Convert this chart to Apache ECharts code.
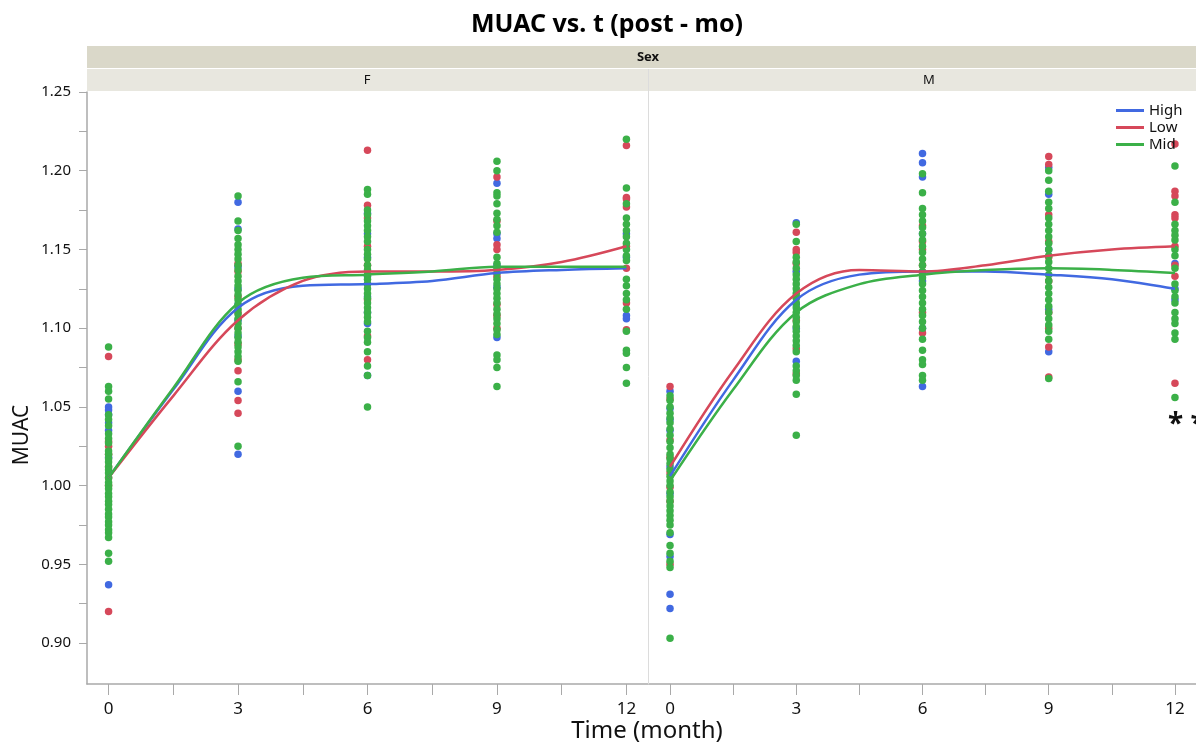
<!DOCTYPE html>
<html><head><meta charset="utf-8">
<script src="https://cdn.jsdelivr.net/npm/echarts@6/dist/echarts.min.js"></script>
<style>html,body{margin:0;padding:0;background:#fff}#c{width:1196px;height:744px}</style>
</head><body><div id="c"></div>
<script>
const TIMES = [0, 3, 6, 9, 12];
const GROUPS = ['High', 'Low', 'Mid'];
const X_TICKS = [0, 1.5, 3, 4.5, 6, 7.5, 9, 10.5, 12];
const X_LABELS = [0, 3, 6, 9, 12];
const Y_TICKS = [0.9, 0.925, 0.95, 0.975, 1.0, 1.025, 1.05, 1.075, 1.1, 1.125, 1.15, 1.175, 1.2, 1.225, 1.25];
const Y_LABELS = [0.9, 0.95, 1.0, 1.05, 1.1, 1.15, 1.2, 1.25];

// Female panel, values per time point (0,3,6,9,12)
const F_HIGH = [
  [1.050, 1.048, 1.045, 1.040, 1.035, 1.018, 0.937],
  [1.180, 1.163, 1.139, 1.125, 1.115, 1.105, 1.095, 1.060, 1.020],
  [1.173, 1.160, 1.145, 1.133, 1.120, 1.110, 1.103, 1.070],
  [1.192, 1.160, 1.157, 1.140, 1.126, 1.094],
  [1.160, 1.145, 1.108, 1.106]
];
const F_LOW = [
  [1.082, 1.028, 1.025, 1.020, 1.012, 1.005, 1.000, 0.920],
  [1.141, 1.136, 1.120, 1.110, 1.100, 1.090, 1.080, 1.073, 1.054, 1.046],
  [1.213, 1.178, 1.170, 1.152, 1.140, 1.128, 1.118, 1.095, 1.080],
  [1.196, 1.168, 1.153, 1.150, 1.133, 1.115, 1.108, 1.100],
  [1.216, 1.183, 1.182, 1.177, 1.152, 1.138, 1.116, 1.099]
];
const F_MID = [
  [1.088, 1.063, 1.060, 1.055, 1.045, 1.042, 1.038, 1.033, 1.030, 1.027, 1.022, 1.020, 1.017, 1.015, 1.012, 1.010, 1.008, 1.005, 1.002, 1.000, 0.998, 0.995, 0.993, 0.990, 0.988, 0.985, 0.982, 0.980, 0.977, 0.975, 0.972, 0.970, 0.967, 0.957, 0.952],
  [1.184, 1.168, 1.162, 1.157, 1.153, 1.150, 1.147, 1.144, 1.140, 1.137, 1.133, 1.130, 1.127, 1.124, 1.121, 1.118, 1.115, 1.112, 1.109, 1.106, 1.103, 1.100, 1.097, 1.094, 1.091, 1.088, 1.085, 1.082, 1.079, 1.066, 1.025],
  [1.188, 1.185, 1.175, 1.172, 1.168, 1.165, 1.162, 1.158, 1.155, 1.150, 1.147, 1.144, 1.140, 1.137, 1.134, 1.131, 1.128, 1.125, 1.122, 1.119, 1.116, 1.113, 1.110, 1.107, 1.104, 1.098, 1.094, 1.091, 1.085, 1.076, 1.070, 1.050],
  [1.206, 1.200, 1.186, 1.184, 1.179, 1.173, 1.169, 1.165, 1.161, 1.145, 1.141, 1.138, 1.135, 1.131, 1.128, 1.125, 1.122, 1.119, 1.116, 1.112, 1.109, 1.106, 1.103, 1.099, 1.096, 1.083, 1.080, 1.075, 1.063],
  [1.220, 1.189, 1.179, 1.170, 1.166, 1.162, 1.158, 1.154, 1.150, 1.146, 1.143, 1.131, 1.127, 1.122, 1.118, 1.112, 1.098, 1.086, 1.084, 1.075, 1.065]
];
// Male panel
const M_HIGH = [
  [1.060, 1.049, 1.042, 1.035, 1.012, 0.995, 0.969, 0.955, 0.931, 0.922],
  [1.167, 1.136, 1.115, 1.100, 1.079],
  [1.211, 1.205, 1.196, 1.160, 1.130, 1.100, 1.063],
  [1.202, 1.185, 1.150, 1.112, 1.085],
  [1.141, 1.125, 1.118]
];
const M_LOW = [
  [1.063, 1.055, 1.029, 1.018, 1.008, 0.999, 0.990, 0.950],
  [1.161, 1.150, 1.148, 1.141, 1.120, 1.105, 1.087, 1.071],
  [1.165, 1.155, 1.150, 1.140, 1.135, 1.110, 1.097],
  [1.209, 1.204, 1.172, 1.155, 1.145, 1.130, 1.110, 1.100, 1.088, 1.069],
  [1.217, 1.187, 1.184, 1.172, 1.170, 1.152, 1.140, 1.133, 1.065]
];
const M_MID = [
  [1.057, 1.054, 1.050, 1.046, 1.043, 1.040, 1.036, 1.032, 1.028, 1.024, 1.020, 1.017, 1.014, 1.010, 1.006, 1.003, 1.000, 0.996, 0.993, 0.990, 0.987, 0.984, 0.981, 0.978, 0.975, 0.970, 0.962, 0.957, 0.952, 0.948, 0.903],
  [1.166, 1.155, 1.145, 1.142, 1.138, 1.134, 1.131, 1.128, 1.125, 1.122, 1.119, 1.116, 1.113, 1.110, 1.107, 1.104, 1.101, 1.098, 1.095, 1.092, 1.089, 1.085, 1.076, 1.073, 1.070, 1.067, 1.058, 1.032],
  [1.198, 1.186, 1.176, 1.172, 1.168, 1.164, 1.160, 1.156, 1.152, 1.148, 1.144, 1.140, 1.136, 1.132, 1.128, 1.124, 1.120, 1.116, 1.112, 1.108, 1.104, 1.100, 1.093, 1.086, 1.080, 1.077, 1.070, 1.067],
  [1.200, 1.194, 1.187, 1.180, 1.176, 1.170, 1.166, 1.162, 1.158, 1.154, 1.150, 1.146, 1.142, 1.138, 1.134, 1.130, 1.126, 1.122, 1.118, 1.114, 1.110, 1.106, 1.102, 1.098, 1.093, 1.068],
  [1.203, 1.180, 1.166, 1.162, 1.159, 1.156, 1.150, 1.146, 1.138, 1.128, 1.124, 1.120, 1.116, 1.110, 1.106, 1.103, 1.097, 1.093, 1.056]
];

// Smoothed fit curves read at these times
const FIT_T = [0, 1.5, 3, 4.5, 6, 7.5, 9, 10.5, 12];
const F_HIGH_FIT = [1.005, 1.061, 1.113, 1.127, 1.128, 1.130, 1.135, 1.137, 1.138];
const F_LOW_FIT  = [1.005, 1.057, 1.105, 1.130, 1.136, 1.136, 1.137, 1.142, 1.152];
const F_MID_FIT  = [1.005, 1.062, 1.116, 1.132, 1.134, 1.136, 1.139, 1.139, 1.139];
const M_HIGH_FIT = [1.006, 1.067, 1.118, 1.134, 1.136, 1.136, 1.134, 1.131, 1.125];
const M_LOW_FIT  = [1.012, 1.073, 1.122, 1.137, 1.136, 1.140, 1.146, 1.150, 1.152];
const M_MID_FIT  = [1.003, 1.061, 1.110, 1.128, 1.134, 1.137, 1.138, 1.137, 1.135];

const COLORS = {High: '#4169e1', Low: '#d6485a', Mid: '#3bb048'};
const FONT = 'Noto Sans';

function pts(groups) {
  const out = [];
  groups.forEach((vals, i) => vals.forEach(v => out.push([TIMES[i], v])));
  return out;
}
function fit(vals) { return FIT_T.map((t, i) => [t, vals[i]]); }

const panels = [
  {scatter: [F_HIGH, F_LOW, F_MID], fit: [F_HIGH_FIT, F_LOW_FIT, F_MID_FIT]},
  {scatter: [M_HIGH, M_LOW, M_MID], fit: [M_HIGH_FIT, M_LOW_FIT, M_MID_FIT]}
];

const series = [];
panels.forEach((p, pi) => {
  GROUPS.forEach((g, gi) => {
    series.push({
      type: 'scatter', name: g, xAxisIndex: pi, yAxisIndex: pi,
      data: pts(p.scatter[gi]), symbolSize: 7.5,
      itemStyle: {color: COLORS[g], opacity: 1}, z: 2, silent: true
    });
  });
});
panels.forEach((p, pi) => {
  GROUPS.forEach((g, gi) => {
    series.push({
      type: 'line', name: g, xAxisIndex: pi, yAxisIndex: pi,
      data: fit(p.fit[gi]), smooth: 0.35, showSymbol: false,
      lineStyle: {color: COLORS[g], width: 2.5}, itemStyle: {color: COLORS[g]}, z: 5, silent: true
    });
  });
});

const axisGrey = '#a9a9a9';
function xAxis(gi) {
  return {
    type: 'value', gridIndex: gi, min: -0.5, max: 12.5,
    axisLine: {show: true, onZero: false, lineStyle: {color: axisGrey, width: 1.5}},
    axisTick: {show: true, length: 11, customValues: X_TICKS, lineStyle: {color: axisGrey}},
    axisLabel: {customValues: X_LABELS, fontSize: 17, color: '#111', margin: 17, fontFamily: FONT},
    splitLine: {show: false}
  };
}
function yAxis(gi) {
  return {
    type: 'value', gridIndex: gi, min: 0.874, max: 1.25, show: gi === 0,
    axisLine: {show: true, onZero: false, lineStyle: {color: axisGrey, width: 1.5}},
    axisTick: {show: true, length: 8, customValues: Y_TICKS, lineStyle: {color: axisGrey}},
    axisLabel: {customValues: Y_LABELS, formatter: v => v.toFixed(2), fontSize: 15, color: '#111', margin: 16, fontFamily: FONT},
    splitLine: {show: false}
  };
}

const chart = echarts.init(document.getElementById('c'), null, {renderer: 'canvas'});
chart.setOption({
  backgroundColor: '#fff',
  animation: false,
  grid: [
    {left: 87, top: 92, width: 561, height: 592},
    {left: 649, top: 92, width: 561, height: 592}
  ],
  xAxis: [xAxis(0), xAxis(1)],
  yAxis: [yAxis(0), yAxis(1)],
  legend: {
    data: GROUPS.map(g => ({name: g, icon: 'rect'})),
    orient: 'vertical', left: 1111, top: 98,
    itemWidth: 28, itemHeight: 3, itemGap: 2,
    textStyle: {fontSize: 15, color: '#111', fontFamily: FONT},
    selectedMode: false
  },
  graphic: [
    {type: 'rect', shape: {x: 87, y: 46, width: 1130, height: 22}, style: {fill: '#dad8c9'}, z: 0},
    {type: 'rect', shape: {x: 87, y: 69, width: 561, height: 22}, style: {fill: '#e8e7df'}, z: 0},
    {type: 'rect', shape: {x: 649, y: 69, width: 570, height: 22}, style: {fill: '#e8e7df'}, z: 0},
    {type: 'line', shape: {x1: 648.5, y1: 69, x2: 648.5, y2: 684}, style: {stroke: '#dcdcdc', lineWidth: 1}, z: 1},
    {type: 'text', x: 648, y: 57, style: {text: 'Sex', font: 'bold 13px "Noto Sans"', fill: '#111', align: 'center', verticalAlign: 'middle'}, z: 10},
    {type: 'text', x: 367, y: 80, style: {text: 'F', font: '13px "Noto Sans"', fill: '#111', align: 'center', verticalAlign: 'middle'}, z: 10},
    {type: 'text', x: 929, y: 80, style: {text: 'M', font: '13px "Noto Sans"', fill: '#111', align: 'center', verticalAlign: 'middle'}, z: 10},
    {type: 'text', x: 607, y: 25, style: {text: 'MUAC vs. t (post - mo)', font: 'bold 25px "Noto Sans"', fill: '#000', align: 'center', verticalAlign: 'middle'}, z: 10},
    {type: 'text', x: 22, y: 435, rotation: Math.PI / 2, style: {text: 'MUAC', font: '21px "Noto Sans"', fill: '#111', align: 'center', verticalAlign: 'middle'}, z: 10},
    {type: 'text', x: 647, y: 731, style: {text: 'Time (month)', font: '24px "Noto Sans"', fill: '#111', align: 'center', verticalAlign: 'middle'}, z: 10},
    {type: 'text', x: 1168, y: 425, style: {text: '* *', font: 'bold 28px "Noto Sans"', fill: '#111', align: 'left', verticalAlign: 'middle'}, z: 10}
  ],
  series: series
});
</script>
</body></html>
